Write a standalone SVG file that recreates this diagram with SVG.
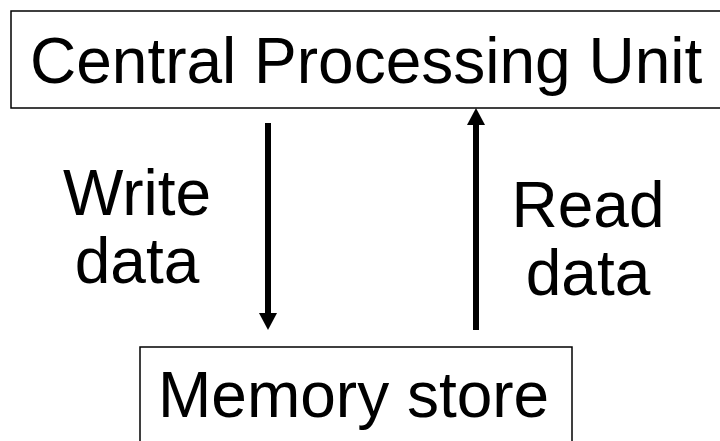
<svg xmlns="http://www.w3.org/2000/svg" width="720" height="441" viewBox="0 0 720 441">
<style>
.box{fill:#fff;stroke:#000;stroke-width:1.5}
.t{font-family:"Liberation Sans",Arial,sans-serif;font-size:64px;fill:#000}
.c{stroke:#000;stroke-width:6;fill:none}
</style>
<defs>
<marker id="ah" viewBox="0 0 17 18" markerWidth="17" markerHeight="18" markerUnits="userSpaceOnUse" refX="5" refY="9" orient="auto">
<path d="M0,0 L17,9 L0,18 z" fill="#000"/>
</marker>
</defs>
<rect width="720" height="441" fill="#fff"/>
<g id="cpu">
<rect class="box" x="11" y="11" width="730" height="97"/>
<text class="t" x="30" y="83">Central Processing Unit</text>
</g>
<g id="memory">
<rect class="box" x="140" y="347" width="432" height="110"/>
<text class="t" x="158" y="417">Memory store</text>
</g>
<g id="connectors">
<line class="c" x1="268" y1="123" x2="268" y2="318" marker-end="url(#ah)"/>
<line class="c" x1="476" y1="330" x2="476" y2="120" marker-end="url(#ah)"/>
<text class="t" x="137" y="215" text-anchor="middle">Write</text>
<text class="t" x="137" y="283" text-anchor="middle">data</text>
<text class="t" x="588" y="227" text-anchor="middle">Read</text>
<text class="t" x="588" y="295" text-anchor="middle">data</text>
</g>
</svg>
